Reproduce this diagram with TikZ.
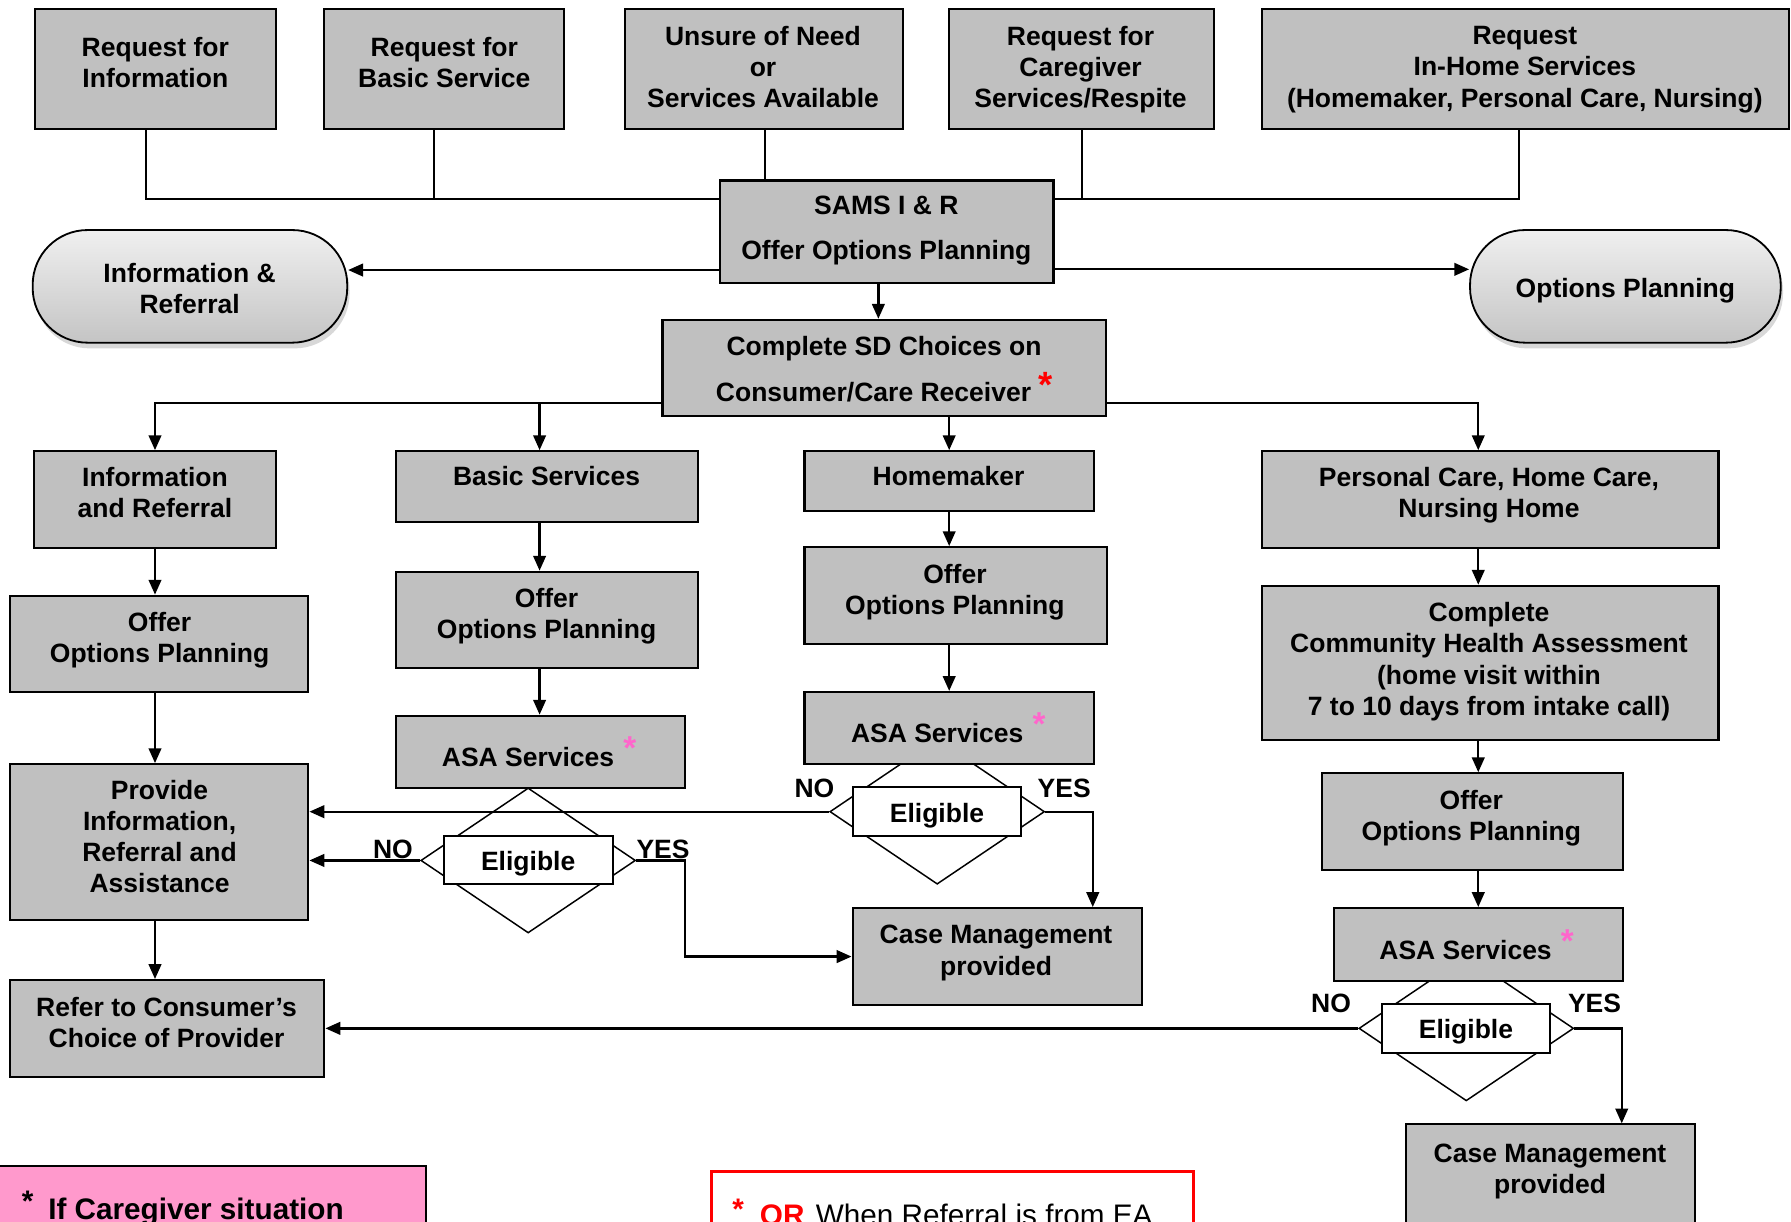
\documentclass[tikz,border=0pt]{standalone}
\usepackage{fontspec}
\setmainfont{Liberation Sans}
\usetikzlibrary{arrows.meta,shapes.geometric,fit,shadows}
\definecolor{boxgray}{HTML}{C0C0C0}
\definecolor{notepink}{HTML}{FF99CC}
\definecolor{starpink}{HTML}{FF66CC}
\newcommand\gbox[8]{\node[box, fit={(#2,#3)(#4,#5)}] (#1) {}; \node[txt] (#1t) at (#6,#7) {#8};}
\newcommand\pst{\rlap{\hspace{8pt}\raisebox{6.5pt}[0pt][0pt]{\fontsize{29}{29}\selectfont\color{starpink}*}}}
\tikzset{
  box/.style={draw=black, line width=1.8pt, fill=boxgray, inner sep=0pt},
  lbl/.style={font=\bfseries\fontsize{23.2}{27.3}\selectfont, align=center, inner sep=0pt,
              execute at begin node=\strut, execute at end node=\strut},
  txt/.style={lbl, yshift=-3pt},
  pill/.style={draw=black, line width=1.6pt, rounded corners=48pt, top color=gray!12, bottom color=gray!46,
               drop shadow={opacity=0.3, shadow xshift=2pt, shadow yshift=-5pt}, inner sep=0pt},
  dia/.style={diamond, draw=black, line width=1.3pt, fill=white, minimum width=188pt, minimum height=127pt, inner sep=0pt},
  elig/.style={draw=black, line width=1.8pt, fill=white, inner sep=0pt, minimum width=147.8pt, minimum height=42.6pt,
               text height=23pt, text depth=5pt, font=\bfseries\fontsize{23.2}{27.3}\selectfont},
  ln/.style={draw=black, line width=1.5pt},
  arr/.style={draw=black, line width=2pt, -{Triangle[length=13pt,width=11pt]}},
}
\begin{document}
\begin{tikzpicture}[x=1pt,y=-1pt]
\useasboundingbox (0,0) rectangle (1568,1069);
\clip (0,0) rectangle (1568,1069);
\fill[white] (0,0) rectangle (1568,1069);

% top row
\gbox{b1}{31}{8}{241.5}{113}{136}{56}{Request for\\Information}
\gbox{b2}{284}{8}{494}{113}{389}{56}{Request for\\Basic Service}
\gbox{b3}{547}{8}{790.5}{113}{668}{59.5}{Unsure of Need\\or\\Services Available}
\gbox{b4}{831}{8}{1062.5}{113}{946}{59.5}{Request for\\Caregiver\\Services/Respite}
\gbox{b5}{1104.5}{8}{1566}{113}{1335}{59.5}{Request\\In-Home Services\\(Homemaker, Personal Care, Nursing)}

\gbox{sams}{630}{158}{922.3}{247.5}{776}{200.5}{SAMS I \& R\\[11.7pt]Offer Options Planning}
\gbox{cmp}{580}{280}{968.5}{364}{774}{324}{Complete SD Choices on\\[12.7pt]Consumer/Care Receiver\hspace{6pt}\raisebox{3pt}[0pt][0pt]{\fontsize{32}{32}\selectfont\color{red}*}}

\node[pill, fit={(28.6,201.4)(304,300)}] (ir) {};
\node[txt] (irt) at (166,253.5) {Information \&\\Referral};
\node[pill, fit={(1287,201.4)(1559,300)}] (op) {};
\node[txt] (opt) at (1423,252) {Options Planning};

% diamonds (behind boxes)
\node[dia] (d2) at (462.4,753.3) {};
\node[dia] (d3) at (820.5,710.6) {};
\node[dia] (d4) at (1283.7,900.3) {};
\node[elig] (e2) at (462.4,753) {Eligible};
\node[elig] (e3) at (820.3,710.7) {Eligible};
\node[elig] (e4) at (1283.4,900.4) {Eligible};

% column 1
\gbox{irb}{30.1}{395}{241.7}{479.5}{135.7}{432}{Information\\and Referral}
\gbox{oop1}{9}{521.5}{270}{606}{139.7}{559}{Offer\\Options Planning}
\gbox{prov}{9}{669}{270}{805.5}{139.7}{733.5}{Provide\\Information,\\Referral and\\Assistance}
\gbox{refr}{9}{858}{284}{942.6}{145.8}{896.5}{Refer to Consumer’s\\Choice of Provider}
% column 2
\gbox{bas}{346.3}{395}{611.1}{457.3}{478.5}{416.3}{Basic Services}
\gbox{oop2}{346.3}{500.5}{611.1}{584.5}{478.5}{538.4}{Offer\\Options Planning}
\gbox{asa2}{346.3}{626.6}{599.6}{690.2}{462.3}{663}{ASA Services\pst}
% column 3
\gbox{hom}{704.3}{395}{957.7}{447.4}{830.4}{416.3}{Homemaker}
\gbox{oop3}{704.3}{479}{968.8}{563.8}{836}{517}{Offer\\Options Planning}
\gbox{asa3}{704.3}{605.8}{957.7}{668.9}{820.5}{642}{ASA Services\pst}
\gbox{cm1}{746.4}{795}{999.8}{880}{872}{833}{Case Management\\provided}
% column 4
\gbox{pc}{1105}{395}{1504.5}{479.5}{1303.6}{432}{Personal Care, Home Care,\\Nursing Home}
\gbox{cha}{1105}{512.8}{1504.5}{648}{1303.6}{578}{Complete\\Community Health Assessment\\(home visit within\\7 to 10 days from intake call)}
\gbox{oop4}{1157}{677}{1421}{761.7}{1288.1}{715}{Offer\\Options Planning}
\gbox{asa4}{1168}{795}{1421}{858.6}{1283.1}{831.7}{ASA Services\pst}
\gbox{cm2}{1231}{984.4}{1484}{1085}{1357}{1024}{Case Management\\provided}

% labels
\node[lbl] (no2) at (344,746) {NO};
\node[lbl] (yes2) at (580.5,746) {YES};
\node[lbl] (no3) at (713,692.4) {NO};
\node[lbl] (yes3) at (931.7,692.4) {YES};
\node[lbl] (no4) at (1165.3,880.6) {NO};
\node[lbl] (yes4) at (1396,880.6) {YES};

% coordinates
\coordinate (j1) at (127.7,174.5);
\coordinate (j2) at (380,174.5);
\coordinate (j3) at (670,174.5);
\coordinate (j4) at (947,174.5);
\coordinate (j5) at (1330,174.5);
\coordinate (ya) at (0,236.4);
\coordinate (yb) at (0,235.8);
\coordinate (xc) at (769,0);
\coordinate (yc) at (0,353);
\coordinate (x1) at (135.7,0);
\coordinate (x2) at (472.4,0);
\coordinate (x3) at (831,0);
\coordinate (x4) at (1294.2,0);
\coordinate (y2a) at (599.6,837.45);
\coordinate (x3y) at (956.7,0);
\coordinate (x4y) at (1419.8,0);

% connectors
\draw[ln] (b1.south -| j1) -- (j1) -- (sams.west |- j1);
\draw[ln] (b2.south -| j2) -- (j2);
\draw[ln] (b3.south -| j3) -- (sams.north -| j3);
\draw[ln] (b4.south -| j4) -- (j4);
\draw[ln] (sams.east |- j5) -- (j5) -- (b5.south -| j5);
\draw[arr] (sams.west |- ya) -- (ir.east |- ya);
\draw[arr] (sams.east |- yb) -- (op.west |- yb);
\draw[arr] (sams.south -| xc) -- (cmp.north -| xc);
\draw[arr] (cmp.west |- yc) -| (irb.north -| x1);
\draw[arr] (x2 |- yc) -- (bas.north -| x2);
\draw[arr] (cmp.south -| x3) -- (hom.north -| x3);
\draw[arr] (cmp.east |- yc) -| (pc.north -| x4);
\draw[arr] (irb.south -| x1) -- (oop1.north -| x1);
\draw[arr] (oop1.south -| x1) -- (prov.north -| x1);
\draw[arr] (prov.south -| x1) -- (refr.north -| x1);
\draw[arr] (bas.south -| x2) -- (oop2.north -| x2);
\draw[arr] (oop2.south -| x2) -- (asa2.north -| x2);
\draw[arr] (hom.south -| x3) -- (oop3.north -| x3);
\draw[arr] (oop3.south -| x3) -- (asa3.north -| x3);
\draw[arr] (pc.south -| x4) -- (cha.north -| x4);
\draw[arr] (cha.south -| x4) -- (oop4.north -| x4);
\draw[arr] (oop4.south -| x4) -- (asa4.north -| x4);
\draw[arr] (d2.west) -- (prov.east |- d2.west);
\draw[arr] (d2.east) -| (y2a) -- (cm1.west |- y2a);
\draw[arr] (d3.west) -- (prov.east |- d3.west);
\draw[arr] (d3.east) -| (cm1.north -| x3y);
\draw[arr] (d4.west) -- (refr.east |- d4.west);
\draw[arr] (d4.east) -| (cm2.north -| x4y);

% notes
\node[draw=black, line width=1.8pt, fill=notepink, fit={(-5,1020.5)(373,1090)}, inner sep=0pt] (n1) {};
\node[anchor=base west, inner sep=0pt, font=\bfseries\fontsize{26}{30}\selectfont] (n1t) at (19,1068)
  {\raisebox{7pt}{*}\hspace{13pt}If Caregiver situation};
\node[draw=red, line width=3pt, fit={(623,1025.8)(1045,1095)}, inner sep=0pt] (n2) {};
\node[anchor=base west, inner sep=0pt, font=\fontsize{26}{30}\selectfont] (n2t) at (641,1073)
  {\textcolor{red}{\bfseries\raisebox{5pt}{*}\hspace{14pt}OR}\hspace{10pt}When Referral is from EA};
\end{tikzpicture}
\end{document}
